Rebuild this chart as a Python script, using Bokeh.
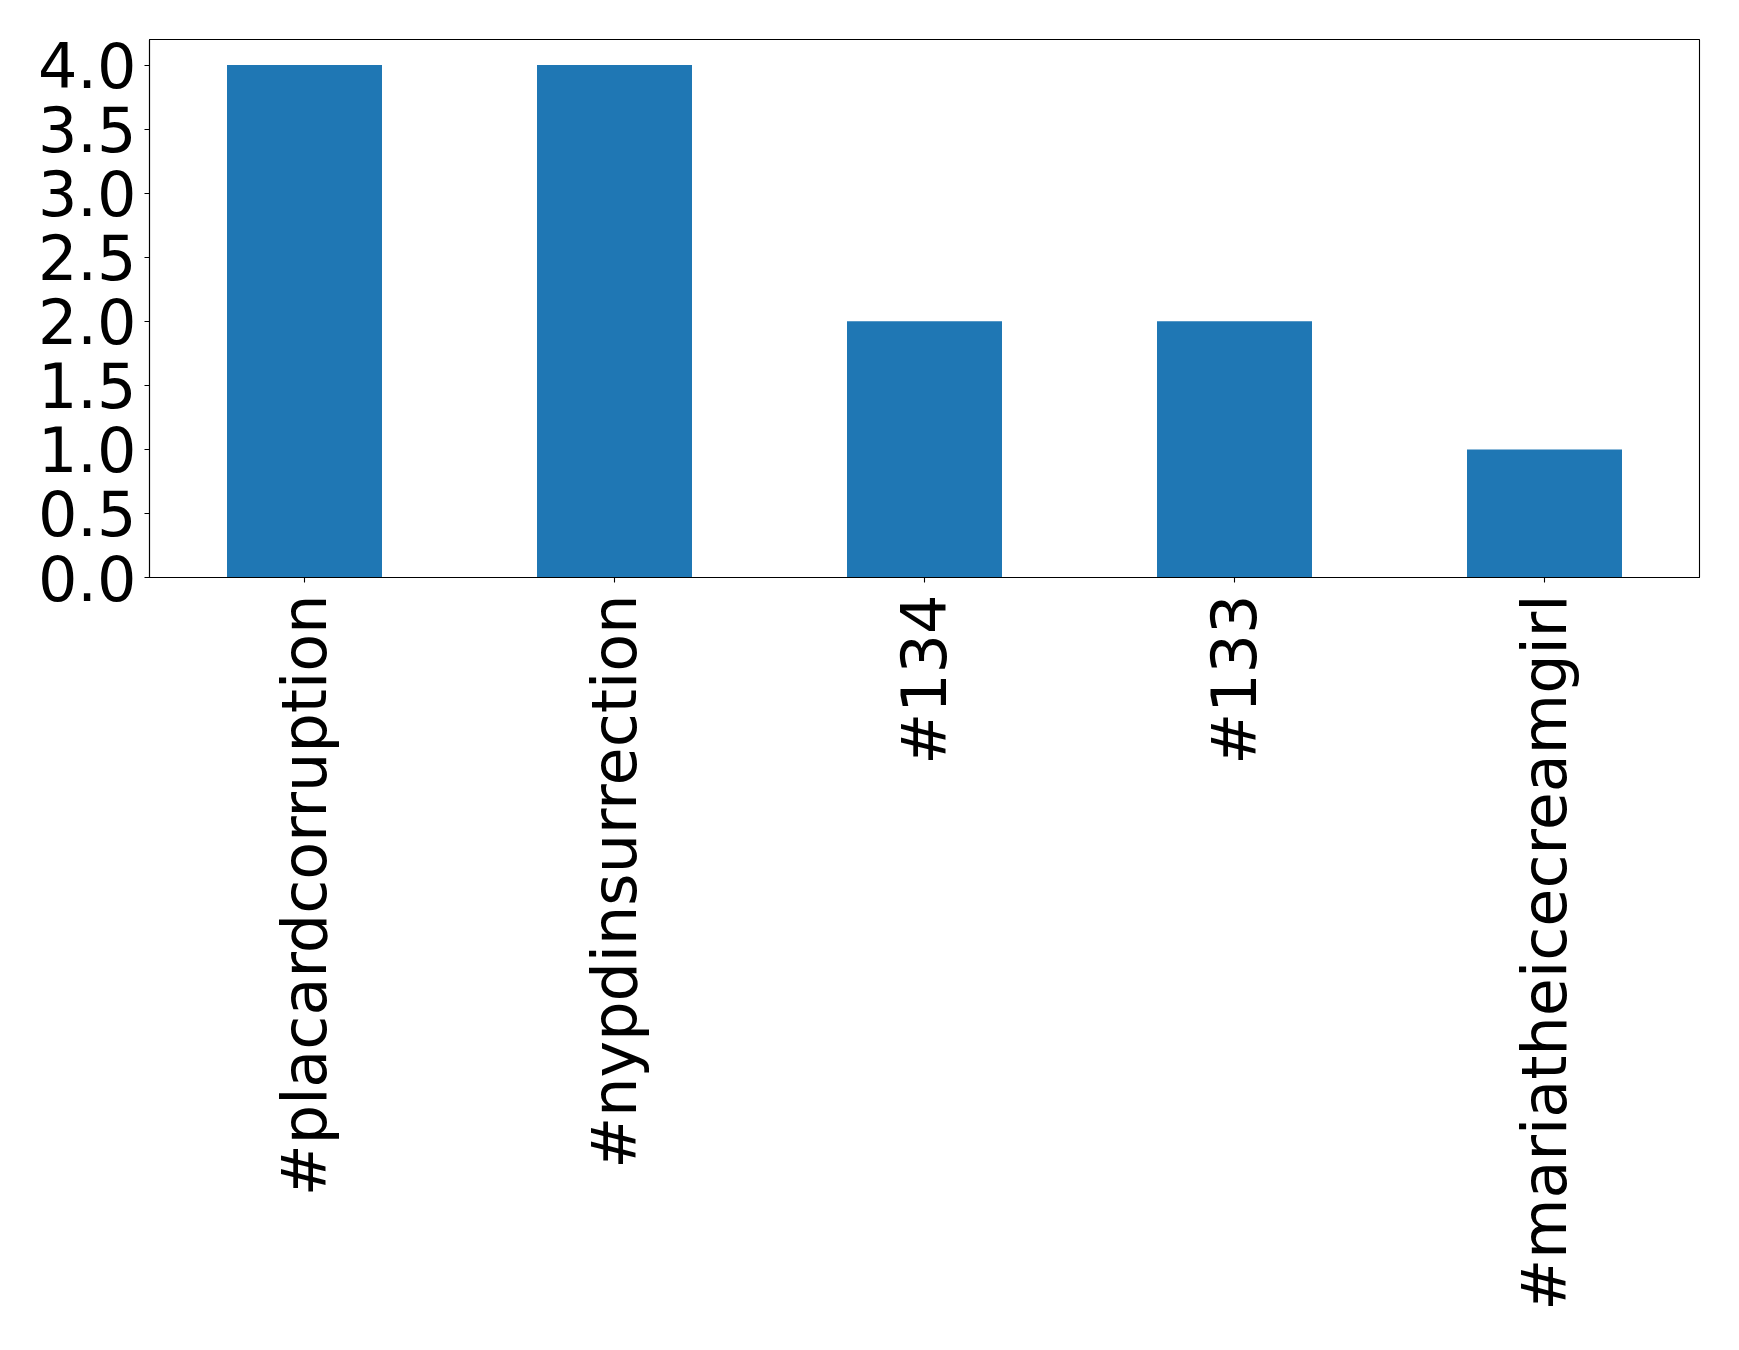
import math
from bokeh.plotting import figure
from bokeh.models import FactorRange, Range1d, FixedTicker, NumeralTickFormatter, ColumnDataSource
from bokeh.embed import file_html
from bokeh.resources import INLINE

categories = ["#placardcorruption", "#nypdinsurrection", "#134", "#133", "#mariatheicecreamgirl"]
counts = [4, 4, 2, 2, 1]
y_ticks = [0.0, 0.5, 1.0, 1.5, 2.0, 2.5, 3.0, 3.5, 4.0]

source = ColumnDataSource(data=dict(cat=categories, val=counts))

p = figure(
    width=1731, height=1340,
    x_range=FactorRange(factors=categories),
    y_range=Range1d(0, 4.2),
    output_backend="svg", toolbar_location=None,
    min_border_left=149, min_border_right=32, min_border_top=39, min_border_bottom=763,
)
p.vbar(x="cat", top="val", bottom=0, width=0.5, source=source,
       fill_color="#1f77b4", line_color=None)

p.xgrid.visible = False
p.ygrid.visible = False
p.outline_line_color = "black"
p.outline_line_width = 1.1

p.yaxis.ticker = FixedTicker(ticks=y_ticks)
p.yaxis.formatter = NumeralTickFormatter(format="0.0")
for ax in (p.xaxis, p.yaxis):
    ax.major_label_text_font = "DejaVu Sans"
    ax.major_label_text_font_size = "62px"
    ax.major_label_text_color = "black"
    ax.axis_line_color = "black"
    ax.axis_line_width = 1.1
    ax.major_tick_line_color = "black"
    ax.major_tick_line_width = 1.1
    ax.major_tick_out = 5
    ax.major_tick_in = 0
    ax.minor_tick_out = 0
    ax.minor_tick_in = 0
p.yaxis.major_label_standoff = 8
p.xaxis.major_label_standoff = 12
p.xaxis.major_label_orientation = math.pi / 2

open("out.html", "w").write(file_html(p, INLINE))
